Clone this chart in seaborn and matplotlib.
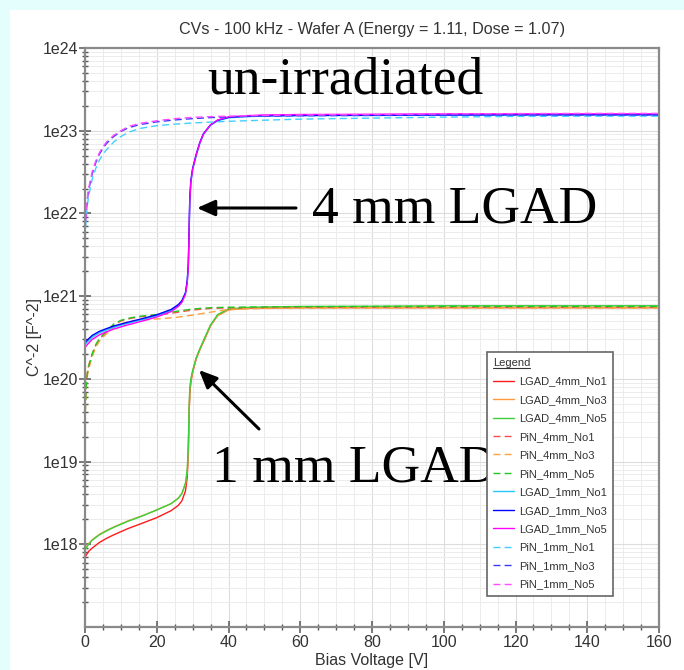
import numpy as np
import pandas as pd
import matplotlib
matplotlib.use("Agg")
import matplotlib.pyplot as plt
import matplotlib.ticker as mticker
from matplotlib.patches import Rectangle
from matplotlib.lines import Line2D
import seaborn as sns

# ---------------- data ----------------
V_LGAD = [0, 1, 2, 4, 6, 8, 12, 16, 20, 24, 26, 27, 28, 28.5, 28.8, 29.0, 29.2, 29.5,
          30, 31, 32, 33, 35, 37, 40, 45, 50, 60, 80, 100, 120, 140, 160]

lgad_4mm_no1 = [7.0e17, 8.2e17, 9.0e17, 1.05e18, 1.18e18, 1.3e18, 1.55e18, 1.8e18, 2.1e18,
                2.55e18, 2.95e18, 3.35e18, 4.4e18, 6.5e18, 1.3e19, 3.5e19, 6.5e19, 9e19,
                1.2e20, 1.75e20, 2.25e20, 2.8e20, 4.4e20, 5.9e20, 6.9e20, 7.2e20, 7.25e20,
                7.3e20, 7.3e20, 7.3e20, 7.3e20, 7.3e20, 7.3e20]
lgad_4mm_no3 = [8.7e17, 1.02e18, 1.13e18, 1.32e18, 1.47e18, 1.62e18, 1.92e18, 2.22e18, 2.6e18,
                3.1e18, 3.6e18, 4.1e18, 5.3e18, 7.5e18, 1.45e19, 3.8e19, 7e19, 9.5e19,
                1.22e20, 1.78e20, 2.28e20, 2.82e20, 4.4e20, 5.8e20, 6.8e20, 7.1e20, 7.2e20,
                7.25e20, 7.25e20, 7.25e20, 7.25e20, 7.25e20, 7.25e20]
lgad_4mm_no5 = [8.5e17, 1.0e18, 1.12e18, 1.3e18, 1.45e18, 1.6e18, 1.9e18, 2.2e18, 2.6e18,
                3.1e18, 3.6e18, 4.1e18, 5.5e18, 8e18, 1.5e19, 4e19, 7.5e19, 1.0e20,
                1.25e20, 1.8e20, 2.3e20, 2.9e20, 4.5e20, 6.0e20, 7.0e20, 7.3e20, 7.4e20,
                7.5e20, 7.55e20, 7.65e20, 7.65e20, 7.65e20, 7.65e20]
lgad_1mm_no1 = [2.6e20, 2.9e20, 3.2e20, 3.6e20, 3.9e20, 4.2e20, 4.7e20, 5.2e20, 5.8e20,
                6.7e20, 7.7e20, 8.6e20, 1.08e21, 1.5e21, 2.3e21, 5e21, 1.3e22, 2.3e22,
                3.4e22, 5.0e22, 7.0e22, 9.0e22, 1.16e23, 1.32e23, 1.43e23, 1.48e23, 1.5e23,
                1.52e23, 1.53e23, 1.54e23, 1.55e23, 1.55e23, 1.55e23]
lgad_1mm_no3 = [2.75e20, 3.05e20, 3.35e20, 3.75e20, 4.05e20, 4.35e20, 4.85e20, 5.35e20, 5.95e20,
                6.9e20, 7.9e20, 8.8e20, 1.1e21, 1.55e21, 2.5e21, 6e21, 1.5e22, 2.5e22,
                3.5e22, 5.2e22, 7.2e22, 9.2e22, 1.18e23, 1.34e23, 1.45e23, 1.5e23, 1.52e23,
                1.53e23, 1.54e23, 1.55e23, 1.56e23, 1.56e23, 1.56e23]
lgad_1mm_no5 = [2.4e20, 2.7e20, 3.0e20, 3.4e20, 3.7e20, 4.0e20, 4.5e20, 5.0e20, 5.6e20,
                6.5e20, 7.5e20, 8.4e20, 1.05e21, 1.45e21, 2.3e21, 5.5e21, 1.4e22, 2.4e22,
                3.4e22, 5.1e22, 7.1e22, 9.1e22, 1.18e23, 1.35e23, 1.47e23, 1.52e23, 1.55e23,
                1.57e23, 1.58e23, 1.6e23, 1.6e23, 1.6e23, 1.6e23]

V_PIN = [0, 0.3, 0.7, 1, 2, 3, 4, 5, 6, 8, 10, 12, 15, 20, 25, 30, 35, 40, 50, 60,
         80, 100, 120, 140, 160]

pin_4mm_no1 = [4e19, 9e19, 1.25e20, 1.45e20, 2.0e20, 2.55e20, 3.0e20, 3.35e20, 3.7e20, 4.5e20,
               5.0e20, 5.3e20, 5.6e20, 5.9e20, 6.3e20, 6.8e20, 7.1e20, 7.2e20, 7.25e20, 7.3e20,
               7.3e20, 7.3e20, 7.3e20, 7.3e20, 7.3e20]
pin_4mm_no3 = [3e19, 7.5e19, 1.1e20, 1.3e20, 1.85e20, 2.4e20, 2.85e20, 3.2e20, 3.5e20, 4.2e20,
               4.6e20, 4.9e20, 5.1e20, 5.3e20, 5.5e20, 5.9e20, 6.4e20, 6.9e20, 7.1e20, 7.15e20,
               7.2e20, 7.2e20, 7.2e20, 7.2e20, 7.2e20]
pin_4mm_no5 = [3e19, 8e19, 1.2e20, 1.4e20, 2.0e20, 2.6e20, 3.05e20, 3.4e20, 3.75e20, 4.6e20,
               5.1e20, 5.4e20, 5.7e20, 6.0e20, 6.5e20, 7.0e20, 7.25e20, 7.35e20, 7.4e20, 7.45e20,
               7.5e20, 7.5e20, 7.5e20, 7.5e20, 7.5e20]
pin_1mm_no1 = [5e21, 8.5e21, 1.3e22, 1.6e22, 2.6e22, 3.5e22, 4.4e22, 5.2e22, 5.9e22, 7.3e22,
               8.5e22, 9.5e22, 1.06e23, 1.15e23, 1.2e23, 1.24e23, 1.27e23, 1.3e23, 1.34e23, 1.38e23,
               1.42e23, 1.46e23, 1.49e23, 1.5e23, 1.5e23]
pin_1mm_no3 = [6e21, 1e22, 1.5e22, 1.9e22, 3.0e22, 4.1e22, 5.2e22, 6.1e22, 7.0e22, 8.5e22,
               9.8e22, 1.08e23, 1.18e23, 1.28e23, 1.35e23, 1.4e23, 1.44e23, 1.47e23, 1.5e23, 1.52e23,
               1.53e23, 1.54e23, 1.55e23, 1.55e23, 1.55e23]
pin_1mm_no5 = [6e21, 1e22, 1.6e22, 2.0e22, 3.2e22, 4.3e22, 5.4e22, 6.4e22, 7.3e22, 8.8e22,
               1.0e23, 1.12e23, 1.22e23, 1.32e23, 1.4e23, 1.45e23, 1.48e23, 1.5e23, 1.53e23, 1.55e23,
               1.57e23, 1.6e23, 1.61e23, 1.62e23, 1.62e23]

series_names = ["LGAD_4mm_No1", "LGAD_4mm_No3", "LGAD_4mm_No5",
                "PiN_4mm_No1", "PiN_4mm_No3", "PiN_4mm_No5",
                "LGAD_1mm_No1", "LGAD_1mm_No3", "LGAD_1mm_No5",
                "PiN_1mm_No1", "PiN_1mm_No3", "PiN_1mm_No5"]
series_x = [V_LGAD] * 3 + [V_PIN] * 3 + [V_LGAD] * 3 + [V_PIN] * 3
series_y = [lgad_4mm_no1, lgad_4mm_no3, lgad_4mm_no5,
            pin_4mm_no1, pin_4mm_no3, pin_4mm_no5,
            lgad_1mm_no1, lgad_1mm_no3, lgad_1mm_no5,
            pin_1mm_no1, pin_1mm_no3, pin_1mm_no5]
series_colors = ["#ff1a1a", "#ff9a3c", "#3ccf3c",
                 "#ff4d4d", "#ffa040", "#22c822",
                 "#20c8ff", "#0000ff", "#ff00ff",
                 "#40d0ff", "#3a3aff", "#ff4dff"]
series_dashed = [False, False, False, True, True, True,
                 False, False, False, True, True, True]

x_ticks = [0, 20, 40, 60, 80, 100, 120, 140, 160]
y_ticks = [1e18, 1e19, 1e20, 1e21, 1e22, 1e23, 1e24]
y_ticklabels = ["1e18", "1e19", "1e20", "1e21", "1e22", "1e23", "1e24"]

# ---------------- style ----------------
sns.set_style("ticks")
plt.rcParams["font.family"] = ["Liberation Sans", "DejaVu Sans"]

W, H = 684, 670
fig = plt.figure(figsize=(W / 100, H / 100), dpi=100)
fig.patch.set_facecolor("#e4fdfd")
fig.patches.append(Rectangle((10 / W, 0), 1, (H - 10) / H, transform=fig.transFigure,
                             facecolor="white", edgecolor="none", zorder=-5))

L, R, T, B = 85, 659, 48, 627
ax = fig.add_axes([L / W, 1 - B / H, (R - L) / W, (B - T) / H])
ax.set_facecolor("white")
ax.set_zorder(1)

for name, xs, ys, col, dsh in zip(series_names, series_x, series_y, series_colors, series_dashed):
    df = pd.DataFrame({"V": xs, "C": ys})
    kw = dict(linestyle=(0, (5, 3))) if dsh else {}
    sns.lineplot(data=df, x="V", y="C", ax=ax, color=col, lw=1.0, label=name,
                 estimator=None, sort=False, **kw)

ax.set_yscale("log")
ax.set_xlim(0, 160)
ax.set_ylim(1e17, 1e24)
ax.set_xticks(x_ticks)
ax.xaxis.set_minor_locator(mticker.MultipleLocator(5))
ax.set_yticks(y_ticks)
ax.set_yticklabels(y_ticklabels)
ax.yaxis.set_minor_locator(mticker.LogLocator(base=10, subs=np.arange(2, 10), numticks=30))
ax.yaxis.set_minor_formatter(mticker.NullFormatter())

ax.grid(True, which="major", color="#dcdcdc", lw=0.8)
ax.grid(True, which="minor", color="#ececec", lw=0.7)
ax.set_axisbelow(True)

for s in ax.spines.values():
    s.set_color("#8a8a8a")
    s.set_linewidth(1.6)
ax.tick_params(axis="both", which="major", direction="inout", length=8, width=1.1,
               color="#555555", labelsize=11.5, labelcolor="#333333")
ax.tick_params(axis="both", which="minor", direction="inout", length=5, width=1.0,
               color="#555555")
ax.tick_params(axis="x", pad=2)
ax.tick_params(axis="y", pad=1)

ax.set_xlabel("Bias Voltage [V]", fontsize=11.5, color="#333333", labelpad=2)
ax.set_ylabel("C^-2 [F^-2]", fontsize=11.5, color="#333333", labelpad=0)
ax.set_title("CVs - 100 kHz - Wafer A (Energy = 1.11, Dose = 1.07)", fontsize=11.6,
             color="#333333", pad=10)

# legend
leg = ax.legend(loc="upper left", bbox_to_anchor=((487 - L) / (R - L), (B - 352) / (B - T)),
                borderaxespad=0, fontsize=8, title="Legend",
                title_fontsize=8, alignment="left", frameon=True, fancybox=False,
                handlelength=1.9, handletextpad=0.45, labelspacing=0.76,
                borderpad=0.55)
leg.get_frame().set_edgecolor("#666666")
leg.get_frame().set_linewidth(1.2)
leg.get_frame().set_alpha(1)
for t in leg.get_texts():
    t.set_color("#333333")
leg.get_title().set_color("#333333")

# annotations
def ax_frac(px, py):
    return ((px - L) / (R - L), (B - py) / (B - T))

serif = ["Liberation Serif", "DejaVu Serif"]
ax.text(*ax_frac(207, 80), "un-irradiated", transform=ax.transAxes, family=serif,
        fontsize=38.5, va="center", ha="left", color="black")
ax.text(*ax_frac(312, 210), "4 mm LGAD", transform=ax.transAxes, family=serif,
        fontsize=38.5, va="center", ha="left", color="black")
ax.text(*ax_frac(212, 468), "1 mm LGAD", transform=ax.transAxes, family=serif,
        fontsize=38.5, va="center", ha="left", color="black")

arrow = dict(arrowstyle="-|>,head_length=0.9,head_width=0.4", lw=2.2, color="black",
             shrinkA=0, shrinkB=0, mutation_scale=12)
ax.annotate("", xy=ax_frac(197, 208), xytext=ax_frac(296, 208),
            xycoords="axes fraction", textcoords="axes fraction", arrowprops=arrow)
ax.annotate("", xy=ax_frac(199, 370), xytext=ax_frac(259, 429),
            xycoords="axes fraction", textcoords="axes fraction", arrowprops=arrow)

# underline the legend title
fig.canvas.draw()
bb = leg.get_title().get_window_extent(fig.canvas.get_renderer())
uy = bb.y0 + 0.5
fig.lines.append(Line2D([bb.x0 / W, bb.x1 / W], [uy / H, uy / H], transform=fig.transFigure,
                        color="#333333", lw=0.8, zorder=10))

fig.savefig("out.png", dpi=100, facecolor=fig.get_facecolor())
